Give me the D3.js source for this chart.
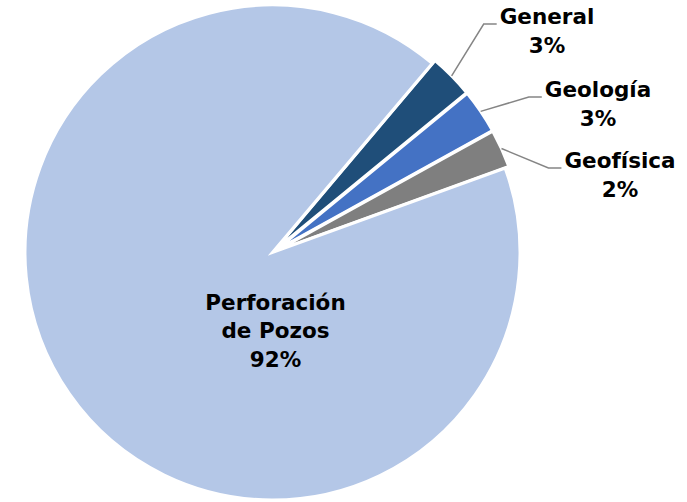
<!DOCTYPE html>
<html>
<head>
<meta charset="utf-8">
<script src="https://cdn.jsdelivr.net/npm/d3@7"></script>
<style>
  html, body { margin: 0; padding: 0; background: #fff; }
  svg { display: block; }
  text { font-family: "DejaVu Sans", sans-serif; font-weight: bold; fill: #000; }
</style>
</head>
<body>
<svg id="chart" width="687" height="502"></svg>
<script>
// Budget share by activity (percent)
const categories = ["General", "Geología", "Geofísica", "Perforación de Pozos"];
const values = [2.9, 2.9, 2.5, 91.7];
const percentLabels = ["3%", "3%", "2%", "92%"];
const colors = ["#1F4E79", "#4472C4", "#7F7F7F", "#B4C7E7"];

const width = 687, height = 502;
const cx = 272.5, cy = 252.5, radius = 247.5;
const explode = 4;               // small slices pulled slightly outward
const startDeg = 40.2;

const svg = d3.select("#chart");
const g = svg.append("g").attr("transform", `translate(${cx},${cy})`);

const data = categories.map((c, i) => ({ name: c, value: values[i], pct: percentLabels[i], color: colors[i], idx: i }));

const pie = d3.pie()
  .sort(null)
  .value(d => d.value)
  .startAngle(startDeg * Math.PI / 180)
  .endAngle(startDeg * Math.PI / 180 + 2 * Math.PI);

const arcs = pie(data);
const arc = d3.arc().innerRadius(0).outerRadius(radius);

function offsetFor(d) {
  if (d.data.idx === 3) return [0, 0];
  const mid = (d.startAngle + d.endAngle) / 2;
  return [Math.sin(mid) * explode, -Math.cos(mid) * explode];
}

g.selectAll("path.slice")
  .data(arcs)
  .join("path")
  .attr("class", "slice")
  .attr("d", arc)
  .attr("transform", d => { const o = offsetFor(d); return `translate(${o[0]},${o[1]})`; })
  .attr("fill", d => d.data.color)
  .attr("stroke", "#fff")
  .attr("stroke-width", 3)
  .attr("stroke-linejoin", "miter");

const fontSize = 21.5;
const lineGap = 29.3;

// Outside labels for the small slices: centre x and first baseline
const outsideLayout = {
  "General":   { x: 547, y: 24 },
  "Geología":  { x: 598, y: 97 },
  "Geofísica": { x: 620, y: 168 }
};

arcs.forEach(d => {
  if (d.data.idx === 3) return;
  const pos = outsideLayout[d.data.name];
  const lab = svg.append("text")
    .attr("text-anchor", "middle")
    .style("font-size", fontSize + "px");
  lab.append("tspan").attr("x", pos.x).attr("y", pos.y).text(d.data.name);
  lab.append("tspan").attr("x", pos.x).attr("y", pos.y + lineGap).text(d.data.pct);

  const firstLine = lab.select("tspan").node();
  const left = pos.x - firstLine.getComputedTextLength() / 2;

  const mid = (d.startAngle + d.endAngle) / 2;
  const r0 = radius + explode;
  const p0 = [cx + Math.sin(mid) * r0, cy - Math.cos(mid) * r0];
  const end = [left - 3, pos.y];
  const elbow = [end[0] - 13, pos.y];

  svg.append("polyline")
    .attr("points", [p0, elbow, end].map(p => p.join(",")).join(" "))
    .attr("fill", "none")
    .attr("stroke", "#858585")
    .attr("stroke-width", 1.5);
});

// Label inside the large slice
const big = data[3];
const inside = svg.append("text")
  .attr("text-anchor", "middle")
  .style("font-size", fontSize + "px");
const insideX = 275.5, insideY = 309.5;
const insideLines = ["Perforación", "de Pozos", big.pct];
insideLines.forEach((t, i) => {
  inside.append("tspan").attr("x", insideX).attr("y", insideY + i * 28.8).text(t);
});
</script>
</body>
</html>
